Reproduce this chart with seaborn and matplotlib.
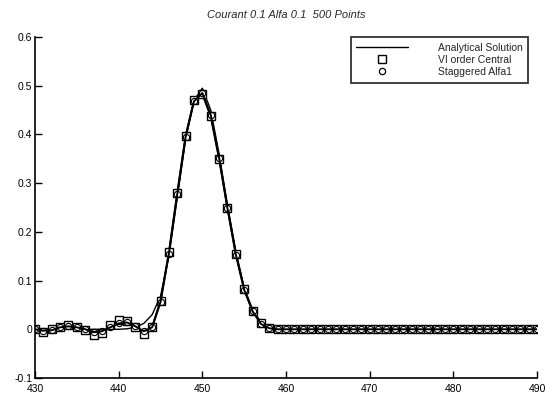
import numpy as np
import pandas as pd
import matplotlib
matplotlib.use("Agg")
import matplotlib.pyplot as plt
import seaborn as sns
from matplotlib.lines import Line2D

x = list(range(430, 491))

analytical = [0.0, 0.0, 0.0, 0.0, 0.0, 0.0, 0.0, 0.0, 0.0, 0.0,
              0.0, 0.001, 0.004, 0.012, 0.03, 0.068, 0.15, 0.27, 0.39, 0.47,
              0.495, 0.45, 0.36, 0.255, 0.16, 0.085, 0.04, 0.015, 0.005, 0.001] + [0.0] * 31

vi_central = [0.0, -0.005, 0.0, 0.005, 0.008, 0.005, -0.002, -0.012, -0.008, 0.008,
              0.02, 0.018, 0.005, -0.01, 0.005, 0.058, 0.158, 0.28, 0.397, 0.47,
              0.483, 0.437, 0.35, 0.25, 0.155, 0.082, 0.038, 0.012, 0.003, 0.0] + [0.0] * 31

staggered = [0.0, -0.003, -0.002, 0.004, 0.006, 0.004, 0.0, -0.006, -0.004, 0.004,
             0.012, 0.014, 0.006, -0.004, 0.004, 0.056, 0.155, 0.277, 0.395, 0.468,
             0.485, 0.44, 0.352, 0.248, 0.153, 0.081, 0.037, 0.011, 0.002, 0.0] + [0.0] * 31

title = "Courant 0.1 Alfa 0.1  500 Points"
labels = ["Analytical Solution", "VI order Central", "Staggered Alfa1"]

sns.set_style("ticks")
plt.rcParams['font.family'] = ['Liberation Sans', 'DejaVu Sans']

fig = plt.figure(figsize=(5.52, 3.96), dpi=100)
ax = fig.add_axes([0.0634, 0.0455, 0.9096, 0.861])

df = pd.DataFrame({"x": x, "a": analytical, "v": vi_central, "s": staggered})

sns.lineplot(data=df, x="x", y="a", ax=ax, color="black", lw=1.0, legend=False)
sns.lineplot(data=df, x="x", y="v", ax=ax, color="black", lw=1.4, marker="s",
             markersize=6, markerfacecolor="white", markeredgecolor="black",
             markeredgewidth=1.0, legend=False)
sns.lineplot(data=df, x="x", y="s", ax=ax, color="black", lw=1.4, marker="o",
             markersize=4.5, markerfacecolor="none", markeredgecolor="black",
             markeredgewidth=0.8, legend=False)

ax.set_xlim(430, 490)
ax.set_ylim(-0.1, 0.6)
ax.set_xticks(range(430, 491, 10))
ax.set_yticks([-0.1, 0, 0.1, 0.2, 0.3, 0.4, 0.5, 0.6])
ax.set_yticklabels(["-0.1", "0", "0.1", "0.2", "0.3", "0.4", "0.5", "0.6"])
ax.tick_params(direction="in", length=5, width=1, labelsize=7.5, pad=2, colors="black")
ax.tick_params(axis="x", pad=4)
ax.set_xlabel("")
ax.set_ylabel("")
for s in ["top", "right"]:
    ax.spines[s].set_visible(False)
for s in ["left", "bottom"]:
    ax.spines[s].set_linewidth(1.2)
    ax.spines[s].set_color("black")

ax.set_title(title, fontsize=8, style="italic", pad=14)

handles = [
    Line2D([], [], color="black", lw=1.0),
    Line2D([], [], color="none", marker="s", markersize=5.5, markerfacecolor="white",
           markeredgecolor="black", markeredgewidth=1.0),
    Line2D([], [], color="none", marker="o", markersize=4.5, markerfacecolor="none",
           markeredgecolor="black", markeredgewidth=0.9),
]
leg = ax.legend(handles, labels, loc="upper right", bbox_to_anchor=(0.982, 1.0),
                fontsize=7.5, frameon=True, fancybox=False, handlelength=5.0,
                borderpad=0.55, labelspacing=0.2, handletextpad=2.8,
                borderaxespad=0)
leg.get_frame().set_edgecolor("black")
leg.get_frame().set_linewidth(1.3)

fig.savefig("out.png", dpi=100)
